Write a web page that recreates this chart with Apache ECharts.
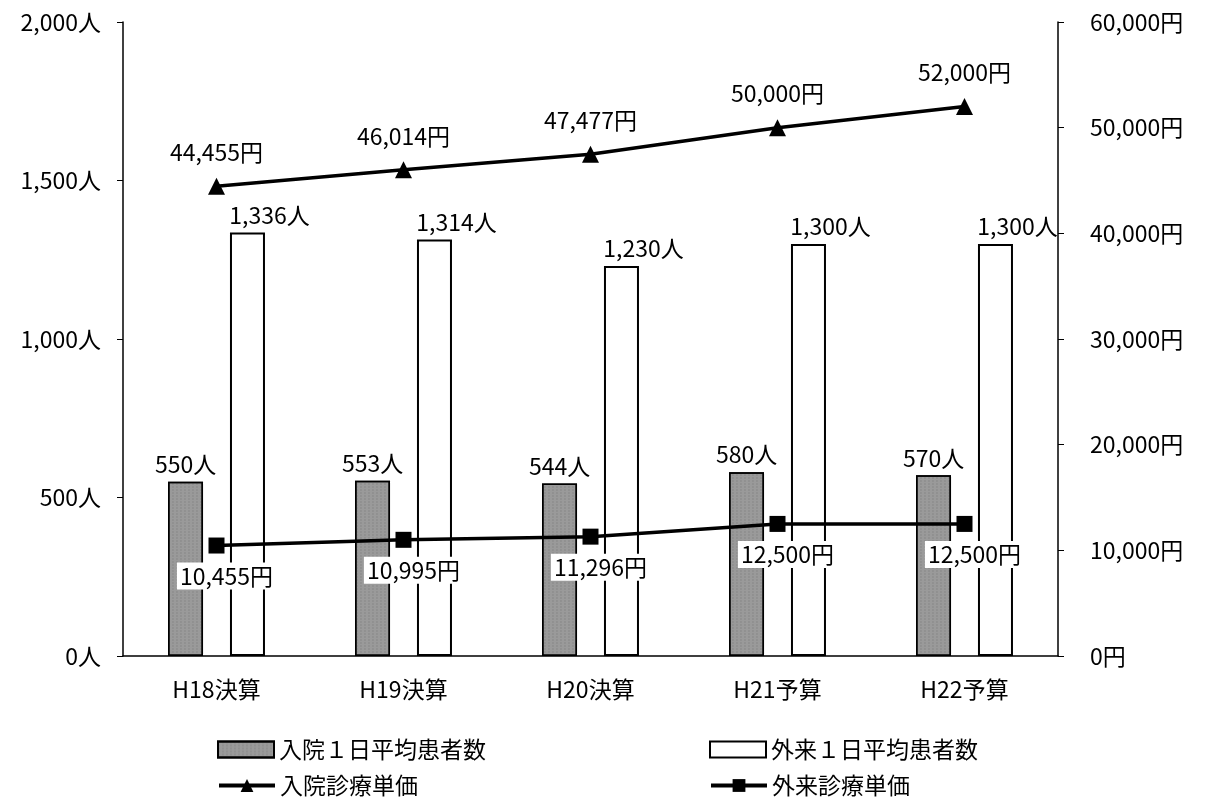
<!DOCTYPE html>
<html><head><meta charset="utf-8">
<script src="https://cdn.jsdelivr.net/npm/echarts@6/dist/echarts.min.js"></script>
<style>html,body{margin:0;padding:0;background:#fff}#c{width:1206px;height:800px}</style>
</head><body><div id="c"></div>
<script>
const categories = ['H18決算','H19決算','H20決算','H21予算','H22予算'];
const inpatientPatients = [550, 553, 544, 580, 570];
const outpatientPatients = [1336, 1314, 1230, 1300, 1300];
const inpatientPrice = [44455, 46014, 47477, 50000, 52000];
const outpatientPrice = [10455, 10995, 11296, 12500, 12500];
const leftTicks = [0, 500, 1000, 1500, 2000];
const rightTicks = [0, 10000, 20000, 30000, 40000, 50000, 60000];
const seriesNames = ['入院１日平均患者数','外来１日平均患者数','入院診療単価','外来診療単価'];

const FONT = "'Noto Sans CJK JP', sans-serif";
const fmt = v => Number(v).toLocaleString('en-US');
const txt = {color:'#000', fontFamily: FONT, fontSize: 23};

const chart = echarts.init(document.getElementById('c'), null, {renderer:'canvas'});
function leg(name, left, top, icon){
  const item = {name};
  if (!icon) item.lineStyle = {width:4, color:'#000'};
  const o = {data:[item], left, top, orient:'horizontal', itemWidth:56, itemHeight:16, itemGap:0,
    textStyle:{...txt, fontSize:23, padding:[0,0,0,0]}, selectedMode:false,
    lineStyle:{width:4, color:'#000'}};
  if (icon) o.icon = icon;
  return o;
}
chart.setOption({
  animation:false,
  backgroundColor:'#fff',
  textStyle:{fontFamily:FONT},
  grid:{left:123, right:148, top:22, bottom:144, containLabel:false},
  legend:[
    leg(seriesNames[0], 212, 733, 'rect'),
    leg(seriesNames[1], 704, 733, 'rect'),
    leg(seriesNames[2], 212, 769),
    leg(seriesNames[3], 704, 769)
  ],
  xAxis:{type:'category', data:categories,
    axisLine:{lineStyle:{color:'#000', width:1.5}},
    axisTick:{show:false},
    axisLabel:{...txt, margin:22}},
  yAxis:[
    {type:'value', min:0, max:2000, interval:500, position:'left',
      axisLine:{show:true, lineStyle:{color:'#000', width:1.5}},
      axisTick:{show:true, inside:false, length:6, lineStyle:{color:'#000'}},
      splitLine:{show:false},
      axisLabel:{...txt, margin:22, formatter:v=>fmt(v)+'人'}},
    {type:'value', min:0, max:60000, interval:10000, position:'right',
      axisLine:{show:true, lineStyle:{color:'#000', width:1.5}},
      axisTick:{show:true, inside:false, length:6, lineStyle:{color:'#000'}},
      splitLine:{show:false},
      axisLabel:{...txt, margin:32, formatter:v=>v===0?'0円':fmt(v)+'円'}}
  ],
  series:[
    {name:seriesNames[0], type:'bar', data:inpatientPatients, barWidth:35, barGap:'77%',
      itemStyle:{color:'#9a9a9a', borderColor:'#000', borderWidth:1.5,
        decal:{symbol:'rect', symbolSize:0.6, dashArrayX:[2,2], dashArrayY:[2,1], color:'rgba(70,70,70,0.35)', rotation:0}},
      label:{show:true, position:'top', distance:6, ...txt, formatter:p=>fmt(p.value)+'人'}},
    {name:seriesNames[1], type:'bar', data:outpatientPatients, barWidth:35,
      itemStyle:{color:'#fff', borderColor:'#000', borderWidth:2},
      label:{show:true, position:'top', distance:6, offset:[22,0], ...txt, formatter:p=>fmt(p.value)+'人'}},
    {name:seriesNames[2], type:'line', yAxisIndex:1, data:inpatientPrice,
      symbol:'triangle', symbolSize:17, lineStyle:{color:'#000', width:3.5},
      itemStyle:{color:'#000'},
      label:{show:true, position:'top', distance:14, ...txt, formatter:p=>fmt(p.value)+'円'}, z:5},
    {name:seriesNames[3], type:'line', yAxisIndex:1, data:outpatientPrice,
      symbol:'rect', symbolSize:16, lineStyle:{color:'#000', width:3.5},
      itemStyle:{color:'#000'},
      label:{show:true, position:'bottom', distance:9, offset:[10,0], backgroundColor:'#fff', padding:[2,3], ...txt, formatter:p=>fmt(p.value)+'円'}, z:5}
  ]
});
</script></body></html>
